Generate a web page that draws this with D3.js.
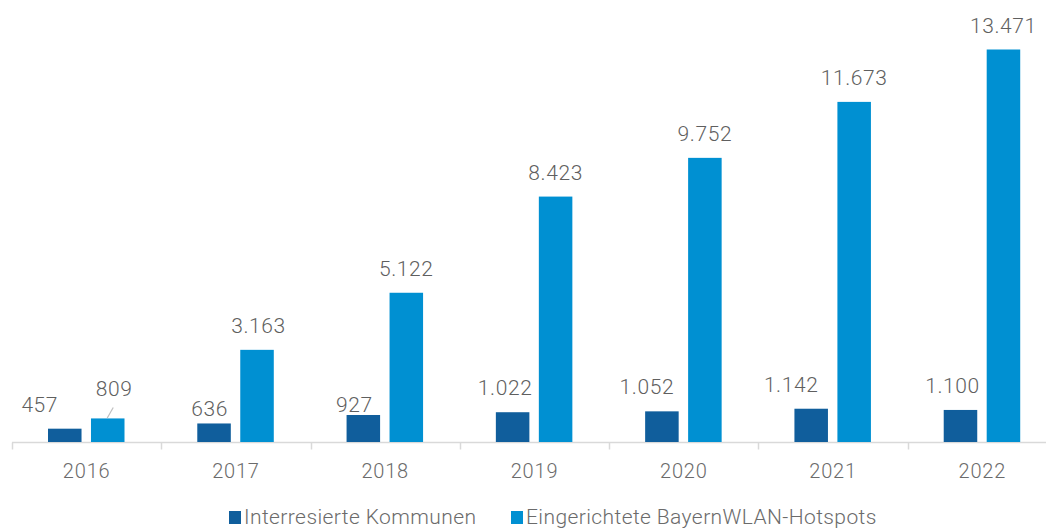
<!DOCTYPE html>
<html>
<head>
<meta charset="utf-8">
<title>BayernWLAN</title>
<script src="https://cdnjs.cloudflare.com/ajax/libs/d3/7.8.5/d3.min.js"></script>
<style>
    body{margin:0;background:#fff;}
    svg{display:block;font-family:Roboto, "Noto Sans", sans-serif;font-weight:300;}
</style>
</head>
<body>
<svg class="chart"></svg>
<script>
var years=["2016","2017","2018","2019","2020","2021","2022"];
var seriesNames=["Interresierte Kommunen","Eingerichtete BayernWLAN-Hotspots"];
var kommunen=[457,636,927,1022,1052,1142,1100];
var hotspots=[809,3163,5122,8423,9752,11673,13471];

// hand placed label nudges (like in the excel original)
var kommunenNudge=[[-25,0],[-4.5,10],[-9,14],[-7.5,0],[-15,0],[-20,0],[-8,0]];
var hotspotsNudge=[[6.5,-5],[1.5,0],[0,0],[0,0],[0,0],[0,0],[0,0]];

document.addEventListener("DOMContentLoaded", function(){
    var svgWidth=1046, svgHeight=529;
    var baseY=442;
    var colors=["#105e9c","#0090d2"];
    var fmt=d3.formatLocale({decimal:",",thousands:".",grouping:[3]}).format(",d");

    var chart=d3.select(".chart")
        .attr("width",svgWidth)
        .attr("height",svgHeight);

    //--------SCALES------------
    var xScale=d3.scaleBand()
        .domain(years)
        .range([12,1057])
        .padding(0);

    var xInner=d3.scaleBand()
        .domain(seriesNames)
        .range([36,112.5])
        .paddingInner(0.22)
        .paddingOuter(0);

    var yScale=d3.scaleLinear()
        .domain([0,13471])
        .range([baseY,49.5]);

    //--------AXIS------------
    var xAxis=d3.axisBottom(xScale).tickSize(0).tickPadding(0);
    var axisG=chart.append("g")
        .attr("transform","translate(0,"+(baseY+0.5)+")")
        .call(xAxis);
    axisG.select(".domain").remove();
    axisG.append("line")
        .attr("x1",12).attr("x2",svgWidth)
        .attr("stroke","#d9d9d9").attr("stroke-width",1.5);
    var bounds=years.map(function(y){ return xScale(y); }).concat([xScale.range()[1]]);
    axisG.selectAll("line.tk")
        .data(bounds)
        .enter()
        .append("line")
        .attr("class","tk")
        .attr("x1",function(d){ return Math.round(d)+0.5; })
        .attr("x2",function(d){ return Math.round(d)+0.5; })
        .attr("y1",0).attr("y2",7)
        .attr("stroke","#d9d9d9").attr("stroke-width",1.5);
    axisG.selectAll(".tick text")
        .attr("y",35)
        .attr("dy",0)
        .attr("font-size",20)
        .attr("font-family","Roboto, sans-serif")
        .attr("font-weight",300)
        .attr("letter-spacing",0.8)
        .attr("fill","#6b6b6b");

    //--------BARS------------
    var allSeries=[kommunen,hotspots];
    var nudges=[kommunenNudge,hotspotsNudge];

    allSeries.forEach(function(vals,s){
        var g=chart.append("g");
        g.selectAll("rect")
            .data(vals)
            .enter()
            .append("rect")
            .attr("x",function(d,i){ return xScale(years[i])+xInner(seriesNames[s]); })
            .attr("width",xInner.bandwidth())
            .attr("y",function(d){ return yScale(d); })
            .attr("height",function(d){ return baseY-yScale(d); })
            .attr("fill",colors[s]);

        g.selectAll("text")
            .data(vals)
            .enter()
            .append("text")
            .attr("x",function(d,i){ return xScale(years[i])+xInner(seriesNames[s])+xInner.bandwidth()/2+nudges[s][i][0]; })
            .attr("y",function(d,i){ return yScale(d)-17+nudges[s][i][1]; })
            .attr("text-anchor","middle")
            .attr("font-size",21)
            .attr("letter-spacing",0.6)
            .attr("fill","#5f5f5f")
            .text(function(d){ return fmt(d); });
    });

    // leader line for the 809 label
    var lx=xScale(years[0])+xInner(seriesNames[1])+xInner.bandwidth()/2;
    chart.append("line")
        .attr("x1",lx+5.5).attr("y1",yScale(hotspots[0])-11)
        .attr("x2",lx-0.5).attr("y2",yScale(hotspots[0])-0.5)
        .attr("stroke","#bfbfbf").attr("stroke-width",1.2);

    //--------LEGEND------------
    var legendX=[229,511];
    var leg=chart.append("g");
    seriesNames.forEach(function(name,s){
        leg.append("rect")
            .attr("x",legendX[s]).attr("y",511)
            .attr("width",12).attr("height",13)
            .attr("fill",colors[s]);
        leg.append("text")
            .attr("x",legendX[s]+15).attr("y",524)
            .attr("font-size",21)
            .attr("letter-spacing",0.4)
            .attr("fill","#6b6b6b")
            .text(name);
    });
});
</script>
</body>
</html>
